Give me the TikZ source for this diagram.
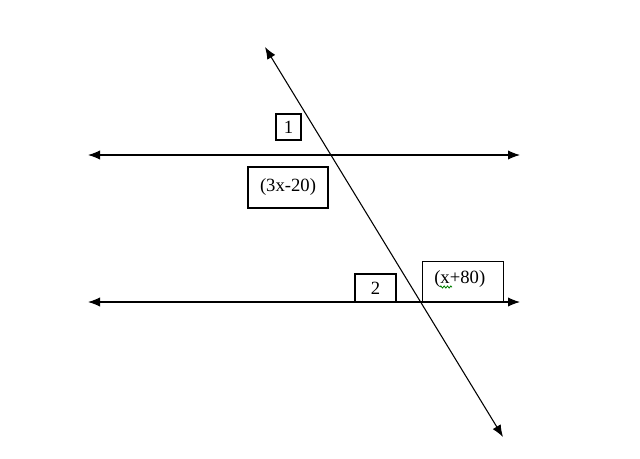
\documentclass[tikz,border=0pt]{standalone}
\usepackage{fontspec}
\setmainfont{Liberation Serif}
\usetikzlibrary{arrows.meta,decorations.pathmorphing}
\tikzset{
  line/.style={line width=0.8pt, {Latex[length=9pt,width=7pt]}-{Latex[length=9pt,width=7pt]}},
  box/.style={draw, line width=1.1pt, inner sep=0pt, font=\fontsize{14}{16}\selectfont}
}
\begin{document}
\begin{tikzpicture}[x=0.75pt,y=-0.75pt]
\useasboundingbox (0,0) rectangle (640,458);
% parallel lines and transversal
\coordinate(L1) at (88,155);
\coordinate(R1) at (520,155);
\coordinate(L2) at (88,302);
\coordinate(R2) at (520,302);
\coordinate(T) at (265,47);
\coordinate(B) at (503,437);
\draw [line] (L1) -- (R1);
\draw [line] (L2) -- (R2);
\draw [line] (T) -- (B);
% angle labels
\node[box, minimum width=25*0.75pt, minimum height=26*0.75pt] (one) at (288.5,127) {1};
\node[box, minimum width=80*0.75pt, minimum height=41*0.75pt] (a1) at (288,187.5) {(3x-20)};
\node[box, minimum width=41*0.75pt, minimum height=28*0.75pt] (two) at (375.5,288) {2};
\node[box, minimum width=81*0.75pt, minimum height=41*0.75pt, anchor=north west] (a2) at (422,261) {};
\node[font=\fontsize{14}{16}\selectfont, anchor=base west, inner sep=0pt] (a2t) at (434,283) {(x+80)};
\draw [green!50!black, line width=0.6pt, decorate, decoration={zigzag, segment length=2.5pt, amplitude=0.8pt}] (440,287) -- (452,287);
\end{tikzpicture}
\end{document}
